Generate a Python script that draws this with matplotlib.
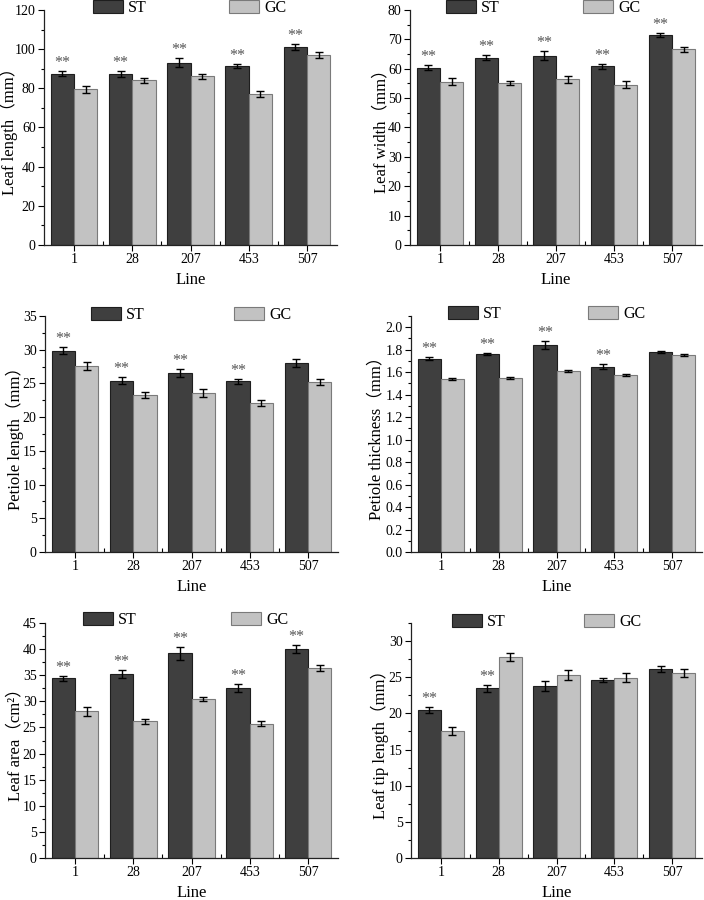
import matplotlib
matplotlib.use("Agg")
import matplotlib.pyplot as plt
from matplotlib.ticker import MultipleLocator, FixedLocator
import numpy as np

plt.rcParams['font.family'] = ['Liberation Serif', 'Noto Sans CJK SC']

# ---------------- data ----------------
lines = ['1', '28', '207', '453', '507']
series_names = ['ST', 'GC']

leaf_length_st = [87.5, 87.5, 93.0, 91.4, 101.0]
leaf_length_st_err = [1.2, 1.5, 2.3, 1.1, 1.4]
leaf_length_gc = [79.5, 84.0, 86.2, 77.2, 96.9]
leaf_length_gc_err = [1.8, 1.2, 1.2, 1.45, 1.45]
leaf_length_sig = [True, True, True, True, True]

leaf_width_st = [60.3, 63.8, 64.5, 60.8, 71.4]
leaf_width_st_err = [0.85, 0.9, 1.6, 0.85, 0.75]
leaf_width_gc = [55.6, 55.1, 56.4, 54.6, 66.7]
leaf_width_gc_err = [1.25, 0.7, 1.2, 1.2, 0.85]
leaf_width_sig = [True, True, True, True, True]

petiole_length_st = [29.85, 25.4, 26.6, 25.3, 28.0]
petiole_length_st_err = [0.5, 0.5, 0.6, 0.4, 0.6]
petiole_length_gc = [27.6, 23.3, 23.6, 22.1, 25.25]
petiole_length_gc_err = [0.55, 0.4, 0.55, 0.4, 0.45]
petiole_length_sig = [True, True, True, True, False]

petiole_thick_st = [1.72, 1.762, 1.842, 1.649, 1.777]
petiole_thick_st_err = [0.013, 0.01, 0.033, 0.024, 0.01]
petiole_thick_gc = [1.539, 1.551, 1.611, 1.572, 1.750]
petiole_thick_gc_err = [0.01, 0.01, 0.008, 0.008, 0.01]
petiole_thick_sig = [True, True, True, True, False]

leaf_area_st = [34.4, 35.2, 39.2, 32.6, 40.0]
leaf_area_st_err = [0.5, 0.8, 1.3, 0.75, 0.7]
leaf_area_gc = [28.1, 26.2, 30.5, 25.7, 36.4]
leaf_area_gc_err = [0.9, 0.5, 0.35, 0.5, 0.6]
leaf_area_sig = [True, True, True, True, True]

leaf_tip_st = [20.5, 23.45, 23.8, 24.6, 26.1]
leaf_tip_st_err = [0.4, 0.5, 0.65, 0.28, 0.4]
leaf_tip_gc = [17.6, 27.8, 25.35, 24.9, 25.6]
leaf_tip_gc_err = [0.53, 0.55, 0.7, 0.62, 0.55]
leaf_tip_sig = [True, True, False, False, False]

ylabels = ['Leaf length（mm）', 'Leaf width（mm）', 'Petiole length（mm）',
           'Petiole thickness（mm）', 'Leaf area（cm²）', 'Leaf tip length（mm）']
xlabel = 'Line'

panels = [
    (leaf_length_st, leaf_length_st_err, leaf_length_gc, leaf_length_gc_err, leaf_length_sig),
    (leaf_width_st, leaf_width_st_err, leaf_width_gc, leaf_width_gc_err, leaf_width_sig),
    (petiole_length_st, petiole_length_st_err, petiole_length_gc, petiole_length_gc_err, petiole_length_sig),
    (petiole_thick_st, petiole_thick_st_err, petiole_thick_gc, petiole_thick_gc_err, petiole_thick_sig),
    (leaf_area_st, leaf_area_st_err, leaf_area_gc, leaf_area_gc_err, leaf_area_sig),
    (leaf_tip_st, leaf_tip_st_err, leaf_tip_gc, leaf_tip_gc_err, leaf_tip_sig),
]

# ---------------- layout / style ----------------
W, H = 704, 900
ylims = [(0, 120), (0, 80), (0, 35), (0, 2.1), (0, 45), (0, 32.5)]
ymajor = [20, 10, 5, 0.2, 5, 5]
yfmt = ['{:.0f}', '{:.0f}', '{:.0f}', '{:.1f}', '{:.0f}', '{:.0f}']
# axes rectangles in pixels: left, top, right, bottom
ax_px = [(44, 10, 337, 245), (410, 10, 702, 245),
         (45, 316, 338, 552), (411, 316, 702, 552),
         (45, 623, 338, 858), (411, 623, 702, 858)]
# legend positions in pixels: ST box left, center y, GC box left
leg_px = [(93, 8, 229), (446, 8, 583), (91, 315, 234),
          (448, 314, 588), (83, 620, 231), (452, 622, 584)]
# y-label anchor (axes fraction)
ylab_x = [-0.088, -0.072, -0.072, -0.093, -0.072, -0.075]

st_color = '#3f3f3f'
st_edge = '#1e1e1e'
gc_color = '#c2c2c2'
gc_edge = '#7a7a7a'
star_color = '#555555'

fig = plt.figure(figsize=(W / 100, H / 100), dpi=100)

x = np.arange(len(lines))
bw = 0.4

for i, (st, ste, gc, gce, sig) in enumerate(panels):
    l, t, r, b = ax_px[i]
    ax = fig.add_axes([l / W, 1 - b / H, (r - l) / W, (b - t) / H])
    ebkw = dict(ecolor='black', elinewidth=1.0, capsize=2.6, capthick=1.0)
    b1 = ax.bar(x - bw / 2, st, bw, yerr=ste, color=st_color, edgecolor=st_edge,
                linewidth=0.8, error_kw=ebkw, label=series_names[0], zorder=2)
    b2 = ax.bar(x + bw / 2, gc, bw, yerr=gce, color=gc_color, edgecolor=gc_edge,
                linewidth=0.8, error_kw=ebkw, label=series_names[1], zorder=2)
    for j in range(len(lines)):
        if sig[j]:
            ax.annotate('**', xy=(x[j] - bw / 2, st[j] + ste[j]), xytext=(0, 0),
                        textcoords='offset points', ha='center', va='bottom',
                        fontsize=11.5, color=star_color)

    ax.set_xlim(-0.515, len(lines) - 1 + 0.515)
    ax.set_ylim(*ylims[i])
    ax.yaxis.set_major_locator(MultipleLocator(ymajor[i]))
    ax.yaxis.set_minor_locator(MultipleLocator(ymajor[i] / 2))
    ax.yaxis.set_major_formatter(matplotlib.ticker.FuncFormatter(
        lambda v, p, f=yfmt[i]: f.format(v)))
    ax.set_xticks(x)
    ax.set_xticklabels(lines)
    ax.xaxis.set_minor_locator(FixedLocator(x[:-1] + 0.5))

    for s in ['top', 'right']:
        ax.spines[s].set_visible(False)
    for s in ['left', 'bottom']:
        ax.spines[s].set_linewidth(0.9)
        ax.spines[s].set_color('#222222')

    ax.tick_params(axis='y', which='major', direction='out', length=4, width=0.8,
                   labelsize=10, pad=2)
    ax.tick_params(axis='y', which='minor', direction='out', length=2.2, width=0.8)
    ax.tick_params(axis='x', which='major', direction='out', length=4, width=0.8,
                   labelsize=10, pad=2)
    ax.tick_params(axis='x', which='minor', direction='in', length=3, width=0.8)

    ax.set_xlabel(xlabel, fontsize=12, labelpad=4, family='Liberation Serif')
    ax.set_ylabel(ylabels[i], fontsize=12)
    ax.yaxis.set_label_coords(ylab_x[i], 0.5)

    stx, cy, gcx = leg_px[i]
    legkw = dict(loc='center left', bbox_transform=fig.transFigure, frameon=False,
                 borderpad=0, borderaxespad=0, handlelength=1.85, handleheight=0.92,
                 handletextpad=0.35, fontsize=11.5)
    lg1 = ax.legend([b1], [series_names[0]], bbox_to_anchor=(stx / W, 1 - cy / H), **legkw)
    ax.add_artist(lg1)
    ax.legend([b2], [series_names[1]], bbox_to_anchor=(gcx / W, 1 - cy / H), **legkw)

fig.savefig('out.png', dpi=100)
